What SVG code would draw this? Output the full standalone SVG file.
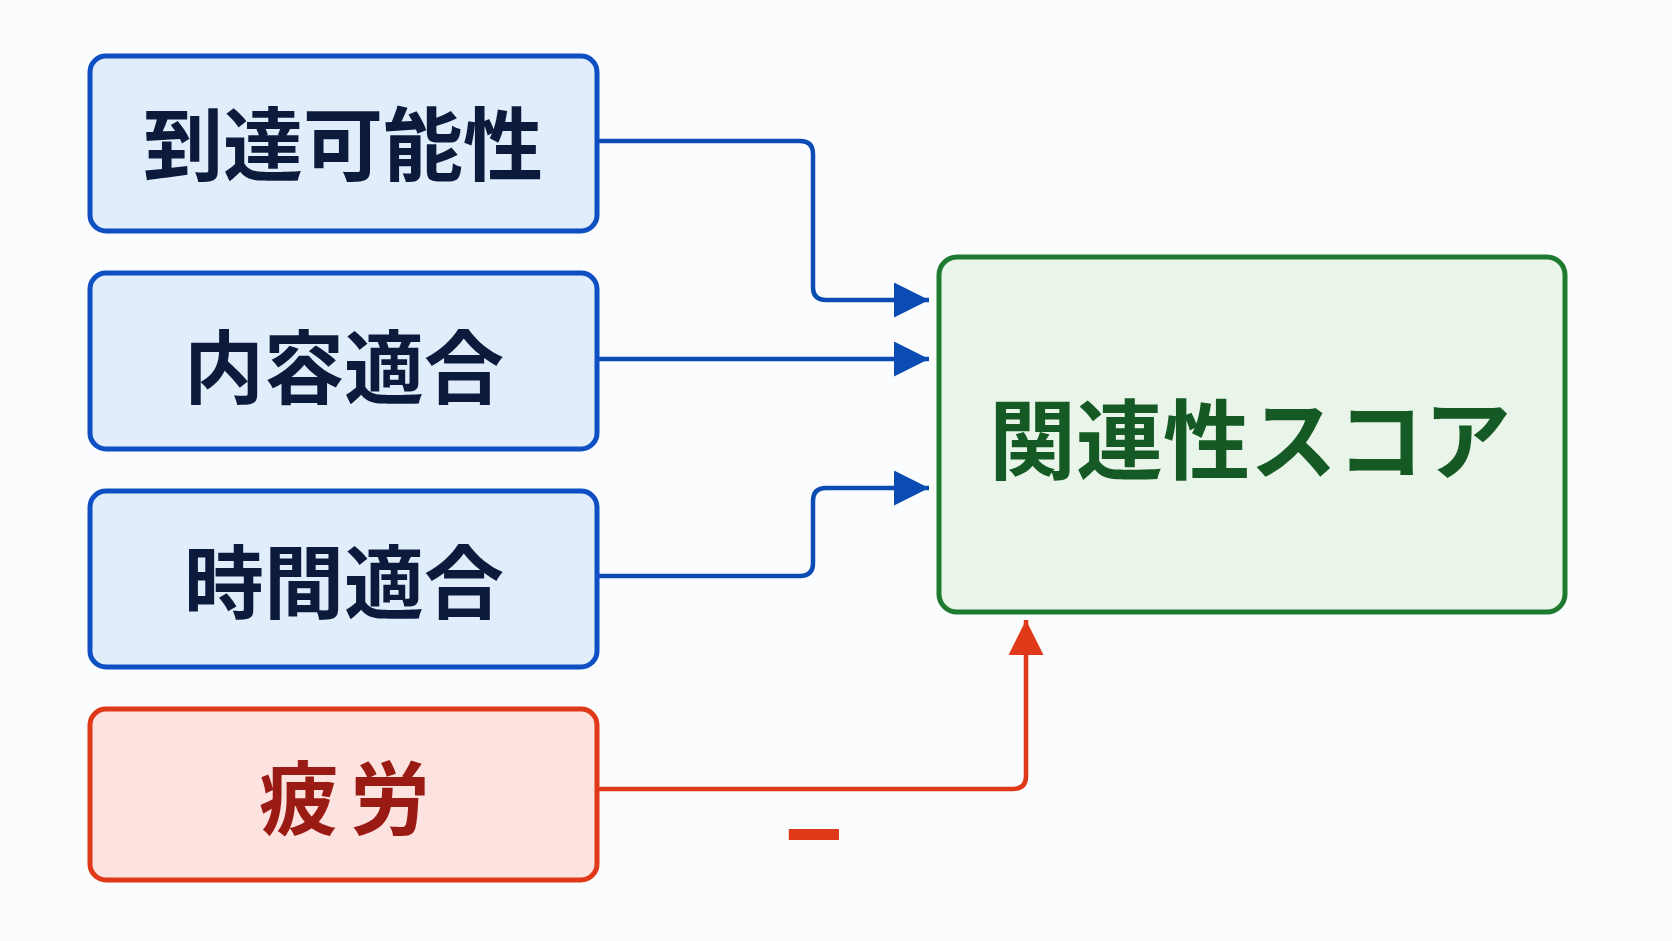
<svg xmlns="http://www.w3.org/2000/svg" width="1672" height="941" viewBox="0 0 1672 941">
<defs>
<style>
.bx{stroke-width:5}
.blue{fill:#e2edfb;stroke:#0f4fc4}
.red{fill:#fde3e0;stroke:#e0391a}
.green{fill:#eaf5ea;stroke:#1d7a2e}
.t{font-family:"Noto Sans CJK JP","Noto Sans CJK SC",sans-serif;font-weight:700;text-anchor:middle;dominant-baseline:central}
.tb{fill:#0c1a3c;font-size:80px}
.tr{fill:#9a1a14;font-size:80px}
.tg{fill:#155a24;font-size:87px}
.cb{fill:none;stroke:#0a4bb4;stroke-width:4.5;stroke-linejoin:round}
.cr{fill:none;stroke:#e0391a;stroke-width:4.5;stroke-linejoin:round}
</style>
<marker id="ab" viewBox="0 0 10 10" refX="10" refY="5" markerWidth="35" markerHeight="35" markerUnits="userSpaceOnUse" orient="auto"><path d="M0,0 L10,5 L0,10 z" fill="#0a4bb4"/></marker>
<marker id="ar" viewBox="0 0 10 10" refX="10" refY="5" markerWidth="35" markerHeight="35" markerUnits="userSpaceOnUse" orient="auto"><path d="M0,0 L10,5 L0,10 z" fill="#e0391a"/></marker>
</defs>
<rect width="1672" height="941" fill="#fbfcfd"/>
<g id="connectors">
<path class="cb" d="M597,141 H800 Q813,141 813,154 V287 Q813,300 826,300 H929" marker-end="url(#ab)"/>
<path class="cb" d="M597,359 H929" marker-end="url(#ab)"/>
<path class="cb" d="M597,576 H800 Q813,576 813,563 V501 Q813,488 826,488 H929" marker-end="url(#ab)"/>
<path class="cr" d="M597,789 H1013 Q1026,789 1026,776 V620" marker-end="url(#ar)"/>
<text x="814" y="868" text-anchor="middle" font-family="Liberation Sans, sans-serif" font-weight="700" font-size="100" fill="#e0391a">−</text>
</g>
<g id="node-reach">
<rect class="bx blue" x="90" y="56" width="507" height="175" rx="16"/>
<text class="t tb" x="343" y="139">到達可能性</text>
</g>
<g id="node-content">
<rect class="bx blue" x="90" y="273" width="507" height="176" rx="16"/>
<text class="t tb" x="344" y="362">内容適合</text>
</g>
<g id="node-time">
<rect class="bx blue" x="90" y="491" width="507" height="176" rx="16"/>
<text class="t tb" x="344" y="577">時間適合</text>
</g>
<g id="node-fatigue">
<rect class="bx red" x="90" y="709" width="507" height="171" rx="16"/>
<text class="t tr" y="793"><tspan x="299">疲</tspan><tspan x="390">労</tspan></text>
</g>
<g id="node-score">
<rect class="bx green" x="939" y="257" width="626" height="355" rx="18"/>
<text class="t tg" x="1250" y="435">関連性スコア</text>
</g>
</svg>
